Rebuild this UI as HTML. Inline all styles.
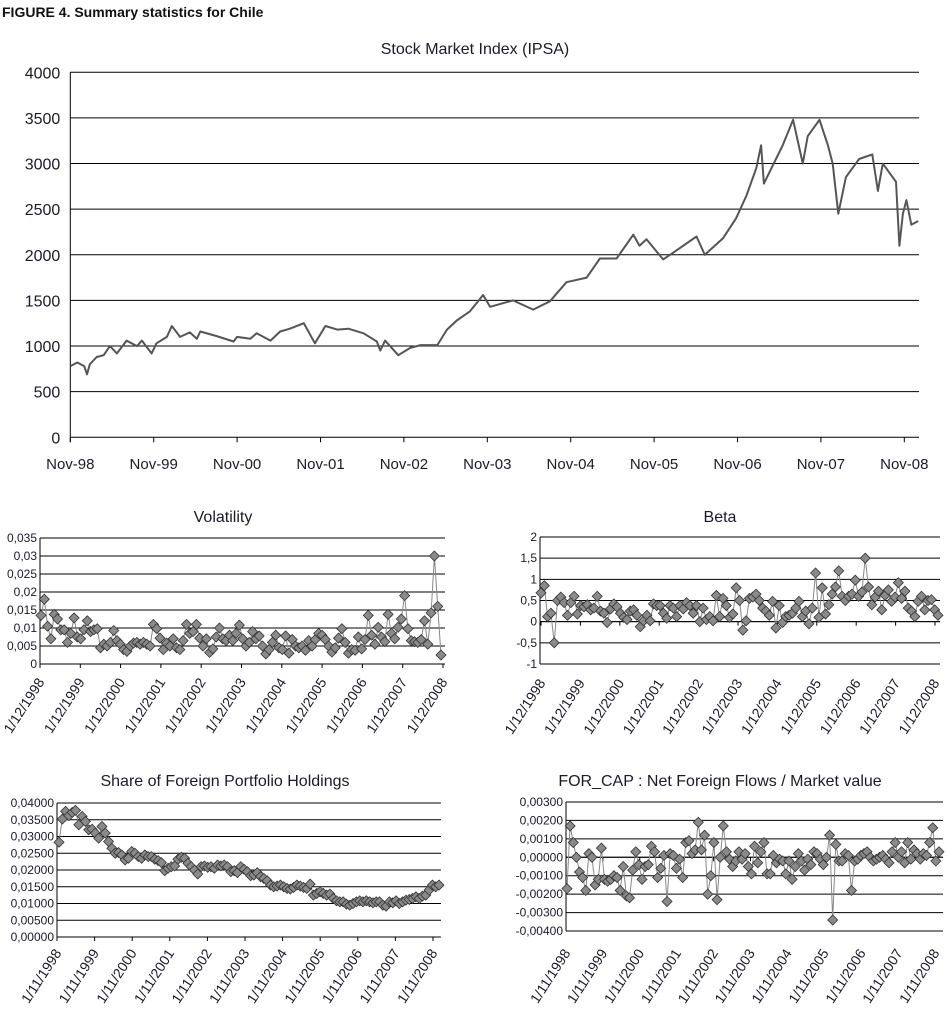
<!DOCTYPE html>
<html><head><meta charset="utf-8"><style>
body{margin:0;background:#fff;}
svg{display:block;font-family:"Liberation Sans",sans-serif;}
</style></head><body>
<svg id="fig" width="946" height="1014" viewBox="0 0 946 1014">
<text x="2" y="17" font-size="14" font-weight="bold" fill="#111">FIGURE 4. Summary statistics for Chile</text>
</svg>
<script>
// ---- Stock index data (months since Nov-98) ----
const ipsaMonths=[0,1,2,2.4,2.8,3.8,4.8,5.7,6.7,8.1,9.6,10.3,11.7,12.4,13.9,14.6,15.8,17.2,18.2,18.7,21,23.5,24,25.9,26.8,28.8,30.2,31.6,33.6,35.2,36.7,38.4,40,42.2,44.1,44.6,45.3,47.2,48.9,50.4,52.8,54.2,55.6,57.5,59.4,60.4,63.7,66.6,69,71.4,74.3,76.2,78.6,81,81.9,82.9,85.3,86.3,90.1,91.3,93.9,95.8,97.3,98.7,99.4,99.8,102.5,104,105.4,106.1,107.8,109,109.7,110.5,111.6,113.5,115.4,116.2,116.9,118.8,119.3,119.8,120.3,121,122];
const ipsaValues=[780,820,780,690,800,880,900,1000,920,1060,1000,1060,920,1030,1100,1220,1100,1150,1080,1160,1110,1050,1100,1080,1140,1060,1160,1190,1250,1030,1220,1180,1190,1140,1050,950,1060,900,980,1010,1010,1180,1280,1380,1560,1430,1500,1400,1490,1700,1750,1960,1960,2220,2100,2170,1950,2000,2200,2000,2180,2400,2650,2950,3200,2780,3200,3480,3000,3300,3480,3200,3000,2450,2850,3050,3100,2700,3000,2800,2100,2450,2600,2330,2370];
const ipsaYTicks=[0,500,1000,1500,2000,2500,3000,3500,4000];
const ipsaXTicks=["Nov-98","Nov-99","Nov-00","Nov-01","Nov-02","Nov-03","Nov-04","Nov-05","Nov-06","Nov-07","Nov-08"];
// ---- Volatility ----
const volValues=[0.0135,0.018,0.0105,0.007,0.0138,0.0125,0.0095,0.0095,0.006,0.0085,0.0128,0.0075,0.007,0.0095,0.012,0.009,0.0095,0.0098,0.0045,0.0055,0.005,0.006,0.0093,0.0065,0.0055,0.004,0.0035,0.005,0.0058,0.006,0.0055,0.006,0.0055,0.005,0.011,0.0098,0.0072,0.004,0.0058,0.005,0.007,0.0045,0.004,0.0065,0.011,0.0085,0.009,0.011,0.0072,0.005,0.007,0.0032,0.0042,0.0075,0.010,0.007,0.0065,0.008,0.0065,0.0085,0.0108,0.007,0.005,0.006,0.009,0.007,0.0078,0.005,0.0028,0.004,0.006,0.008,0.0045,0.004,0.0078,0.003,0.0068,0.005,0.0045,0.005,0.0038,0.0065,0.005,0.0068,0.0085,0.008,0.0068,0.005,0.0033,0.0045,0.0072,0.0098,0.006,0.003,0.004,0.0038,0.0075,0.0042,0.0068,0.0135,0.008,0.0055,0.0102,0.0075,0.0062,0.0138,0.0085,0.007,0.0102,0.0125,0.019,0.0098,0.0065,0.0062,0.006,0.0068,0.012,0.0055,0.0142,0.030,0.016,0.0025];
const volYTicks=["0","0,005","0,01","0,015","0,02","0,025","0,03","0,035"];
const decLabels=["1/12/1998","1/12/1999","1/12/2000","1/12/2001","1/12/2002","1/12/2003","1/12/2004","1/12/2005","1/12/2006","1/12/2007","1/12/2008"];
// ---- Beta ----
const betaValues=[0.68,0.85,0.12,0.2,-0.5,0.5,0.58,0.45,0.15,0.45,0.6,0.18,0.38,0.35,0.4,0.28,0.32,0.6,0.25,0.2,-0.02,0.3,0.42,0.35,0.2,0.1,0.05,0.25,0.28,0.15,-0.12,0.02,0.15,0.02,0.42,0.38,0.38,0.2,0.08,0.38,0.32,0.12,0.38,0.3,0.45,0.38,0.2,0.38,0.0,0.32,0.05,0.12,0.02,0.62,0.12,0.55,0.38,0.1,0.18,0.8,0.5,-0.2,0.02,0.55,0.58,0.65,0.5,0.32,0.25,0.15,0.48,-0.15,0.38,-0.02,0.12,0.15,0.2,0.32,0.48,0.12,0.25,-0.05,0.32,1.15,0.1,0.8,0.18,0.4,0.65,0.82,1.2,0.6,0.5,0.6,0.65,0.98,0.6,0.7,1.5,0.82,0.4,0.58,0.72,0.28,0.62,0.75,0.48,0.58,0.92,0.55,0.72,0.32,0.25,0.12,0.48,0.6,0.28,0.5,0.52,0.28,0.15];
const betaYTicks=["-1","-0,5","0","0,5","1","1,5","2"];
// ---- Share of foreign holdings ----
const shareValues=[0.0283,0.0352,0.0375,0.0362,0.0372,0.0378,0.0335,0.036,0.0345,0.032,0.0322,0.031,0.0295,0.033,0.031,0.0285,0.0265,0.025,0.0252,0.0245,0.023,0.0235,0.0255,0.025,0.024,0.0235,0.0245,0.024,0.024,0.0232,0.0228,0.0222,0.0198,0.0205,0.021,0.0212,0.0232,0.0238,0.0235,0.022,0.021,0.02,0.0188,0.021,0.0212,0.0208,0.021,0.0205,0.0215,0.0212,0.0215,0.021,0.0195,0.0198,0.0192,0.021,0.0202,0.0195,0.0183,0.0185,0.0192,0.018,0.0175,0.0168,0.0155,0.015,0.0152,0.0155,0.015,0.0145,0.0143,0.0148,0.0155,0.0152,0.0148,0.0145,0.0158,0.0125,0.013,0.0135,0.013,0.0125,0.0128,0.0115,0.0108,0.0105,0.0105,0.0098,0.0095,0.01,0.0105,0.0108,0.0105,0.0108,0.0105,0.0102,0.0105,0.0105,0.0095,0.0092,0.0105,0.0102,0.0108,0.01,0.0105,0.011,0.0112,0.0115,0.012,0.0115,0.0122,0.0125,0.014,0.0155,0.015,0.0155];
const shareYTicks=["0,00000","0,00500","0,01000","0,01500","0,02000","0,02500","0,03000","0,03500","0,04000"];
const novLabels=["1/11/1998","1/11/1999","1/11/2000","1/11/2001","1/11/2002","1/11/2003","1/11/2004","1/11/2005","1/11/2006","1/11/2007","1/11/2008"];
// ---- FOR_CAP ----
const forcapValues=[-0.0017,0.0017,0.0008,0.0,-0.0008,-0.0011,-0.0018,0.0002,0.0,-0.0015,-0.0012,0.0005,-0.0012,-0.0013,-0.0012,-0.001,-0.0011,-0.0018,-0.0005,-0.0021,-0.0022,-0.0007,0.0003,-0.0004,-0.0012,-0.0005,-0.0004,0.0006,0.0003,-0.0011,-0.0006,0.0001,-0.0024,0.0002,0.0001,-0.0006,-0.0001,-0.0011,0.0008,0.0009,0.0002,0.0004,0.0019,0.0004,0.0012,-0.002,-0.001,0.0008,-0.0023,0.0,0.0017,0.0003,-0.0001,-0.0005,-0.0002,0.0003,-0.0001,0.0002,-0.0005,-0.0009,0.0006,-0.0003,0.0003,0.0008,-0.0009,-0.0009,0.0001,-0.0003,-0.0001,-0.0002,-0.0009,-0.0002,-0.0012,-0.0005,0.0002,-0.0002,-0.0007,-0.0001,-0.0004,0.0003,0.0002,-0.0001,-0.0004,0.0,0.0012,-0.0034,0.0007,-0.0002,-0.0002,0.0002,0.0001,-0.0018,-0.0002,-0.0001,0.0001,0.0002,0.0003,0.0,-0.0002,-0.0001,0.0,0.0001,-0.0001,-0.0003,0.0003,0.0008,0.0,0.0003,-0.0003,0.0008,-0.0001,0.0004,0.0002,-0.0001,0.0002,0.0001,0.0008,0.0016,-0.0002,0.0003];
const forcapYTicks=["-0,00400","-0,00300","-0,00200","-0,00100","0,00000","0,00100","0,00200","0,00300"];

const NS="http://www.w3.org/2000/svg";
const svg=document.getElementById('fig');
function el(tag,attrs,parent,txt){const e=document.createElementNS(NS,tag);for(const k in attrs)e.setAttribute(k,attrs[k]);if(txt!==undefined)e.textContent=txt;(parent||svg).appendChild(e);return e;}
function tx(x,y,s,size,anchor,parent){return el('text',{x:x,y:y,'font-size':size,'text-anchor':anchor||'start',fill:'#1a1a2a'},parent,s);}

// ===== Top chart =====
(function(){
  const g=el('g',{});
  
  
  const L=70.3,R=919,T=72.3,B=437.3,yMax=4000,yearPx=83.4;
  const X=m=>L+m/12*yearPx, Y=v=>B-(v/yMax)*(B-T);
  const t=tx(475,54,'Stock Market Index  (IPSA)',16,'middle',g);
  
  
  ipsaYTicks.forEach(v=>{
    const ln=el('line',{x1:L,x2:R,y1:Y(v),y2:Y(v),stroke:'#000','stroke-width':1},g);
    
    
    const lb=tx(L-10,Y(v)+6,String(v),16,'end',g);
    
    
  });
  el('line',{x1:L,x2:L,y1:T,y2:B+5,stroke:'#000'},g);
  ipsaXTicks.forEach((s,i)=>{
    const x=L+i*yearPx;
    el('line',{x1:x,x2:x,y1:B,y2:B+5,stroke:'#000'},g);
    const lb=tx(x,469,s,15,'middle',g);
    
    
  });
  const pts=ipsaMonths.map((m,i)=>X(m).toFixed(1)+','+Y(ipsaValues[i]).toFixed(1)).join(' ');
  const pl=el('polyline',{points:pts,fill:'none',stroke:'#555','stroke-width':2,'stroke-linejoin':'round'},g);
  
  
})();

// ===== Small charts =====
function small(o){
  const g=el('g',{});
  
  
  const {L,R,T,B,min,max,ticks,tickVals,vals,x0,x1,title,tx0,tx1,labels,axisV,labY,tcx,ty}=o;
  const Y=v=>B-(v-min)/(max-min)*(B-T);
  const t=tx(tcx,ty,title,16,'middle',g);
  
  
  tickVals.forEach((v,i)=>{
    const ln=el('line',{x1:L,x2:R,y1:Y(v),y2:Y(v),stroke:'#000'},g);
    
    
    const lb=tx(L-3,Y(v)+4,ticks[i],12,'end',g);
    
    
  });
  el('line',{x1:L,x2:L,y1:T,y2:B,stroke:'#000'},g);
  const ay=Y(axisV);
  el('line',{x1:L,x2:R,y1:ay,y2:ay,stroke:'#000'},g);
  labels.forEach((s,i)=>{
    const x=tx0+i*(tx1-tx0)/(labels.length-1);
    el('line',{x1:x,x2:x,y1:ay,y2:ay+4,stroke:'#000'},g);
    const lb=el('text',{x:0,y:0,'font-size':14,'text-anchor':'end',fill:'#1a1a2a',transform:`translate(${x+5},${labY}) rotate(-57)`},g,s);
    
    
  });
  const n=vals.length, X=i=>x0+i*(x1-x0)/(n-1);
  const pl=el('polyline',{points:vals.map((v,i)=>X(i).toFixed(1)+','+Y(v).toFixed(1)).join(' '),fill:'none',stroke:'#888','stroke-width':1},g);
  
  
  vals.forEach((v,i)=>{
    const x=X(i),y=Y(v),r=5;
    const d=el('polygon',{points:`${x},${y-r} ${x+r},${y} ${x},${y+r} ${x-r},${y}`,fill:'#8a8a8a',stroke:'#333','stroke-width':0.8},g);
    
    
  });
}
small({name:'volatility',L:40,R:445,T:538,B:664,min:0,max:0.035,ticks:volYTicks,tickVals:[0,0.005,0.01,0.015,0.02,0.025,0.03,0.035],vals:volValues,x0:41,x1:441,title:'Volatility',tcx:223,ty:522,tx0:40,tx1:443,labels:decLabels,axisV:0,labY:682});
small({name:'beta',L:540,R:940,T:537,B:664,min:-1,max:2,ticks:betaYTicks,tickVals:[-1,-0.5,0,0.5,1,1.5,2],vals:betaValues,x0:541,x1:938,title:'Beta',tcx:720,ty:522,tx0:541,tx1:935,labels:decLabels,axisV:0,labY:683});
small({name:'share-foreign-holdings',L:57,R:441,T:803,B:937,min:0,max:0.04,ticks:shareYTicks,tickVals:[0,0.005,0.01,0.015,0.02,0.025,0.03,0.035,0.04],vals:shareValues,x0:59,x1:439,title:'Share of Foreign Portfolio Holdings',tcx:225,ty:786,tx0:57,tx1:433,labels:novLabels,axisV:0,labY:953});
small({name:'for-cap',L:566,R:943,T:802,B:931,min:-0.004,max:0.003,ticks:forcapYTicks,tickVals:[-0.004,-0.003,-0.002,-0.001,0,0.001,0.002,0.003],vals:forcapValues,x0:567,x1:939,title:'FOR_CAP : Net Foreign Flows / Market value',tcx:720,ty:786,tx0:566,tx1:935,labels:novLabels,axisV:0,labY:953});
</script>
</body></html>
